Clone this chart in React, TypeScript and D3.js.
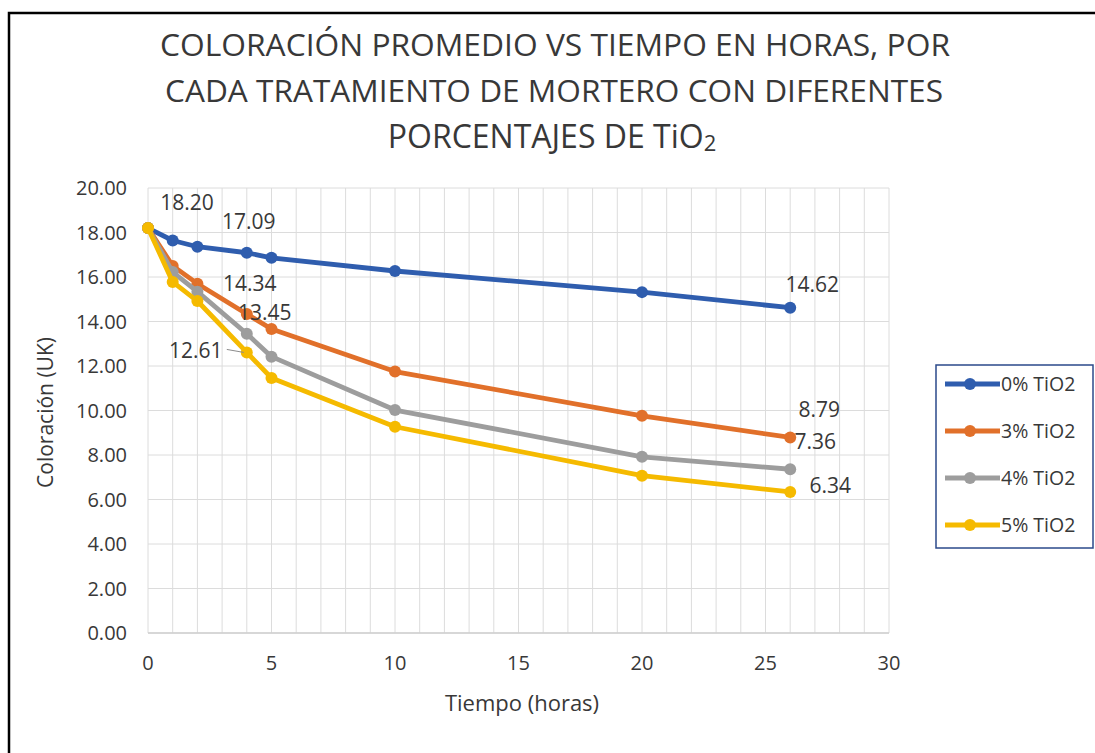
import React from "react";
import * as d3 from "d3";

const hours = [0, 1, 2, 4, 5, 10, 20, 26];
const seriesNames = ["0% TiO2", "3% TiO2", "4% TiO2", "5% TiO2"];
const tio0 = [18.2, 17.64, 17.36, 17.09, 16.86, 16.27, 15.32, 14.62];
const tio3 = [18.2, 16.5, 15.7, 14.34, 13.66, 11.75, 9.76, 8.79];
const tio4 = [18.2, 16.22, 15.34, 13.45, 12.42, 10.02, 7.92, 7.36];
const tio5 = [18.2, 15.78, 14.92, 12.61, 11.46, 9.27, 7.07, 6.34];
const seriesColors = ["#2F5DAE", "#E1702A", "#9D9D9D", "#F5BA00"];
const yTicks = [0, 2, 4, 6, 8, 10, 12, 14, 16, 18, 20];
const xTicks = [0, 5, 10, 15, 20, 25, 30];
const titleLines = [
  "COLORACIÓN PROMEDIO VS TIEMPO EN HORAS, POR",
  "CADA TRATAMIENTO DE MORTERO CON DIFERENTES",
];

// data labels: [series index, point index, dx, dy]
const labelSpecs: [number, number, number, number][] = [
  [0, 0, 39, -26],
  [0, 3, 2, -32],
  [0, 7, 22, -24],
  [1, 3, 3, -31],
  [1, 7, 29, -28],
  [2, 3, 18, -22],
  [2, 7, 25, -28],
  [3, 3, -51, -2],
  [3, 7, 40, -7],
];

const W = 1095;
const H = 753;
const FONT = "'Open Sans', 'Noto Sans', sans-serif";
const TXT = "#383838";

export default function App() {
  const data = [tio0, tio3, tio4, tio5];
  const x = d3.scaleLinear().domain([0, 30]).range([148, 889]);
  const y = d3.scaleLinear().domain([0, 20]).range([633, 188]);
  const line = d3
    .line<number>()
    .x((_, i) => x(hours[i]))
    .y((d) => y(d));
  const minorX = d3.range(0, 31, 1);

  return (
    <svg
      width={W}
      height={H}
      style={{ position: "absolute", left: 0, top: 0, background: "#fff" }}
      fontFamily={FONT}
    >
      <rect x={0} y={0} width={W} height={H} fill="#fff" />
      <path d={`M9,${H} V13 H${W}`} fill="none" stroke="#000" strokeWidth={2.5} />

      {/* title */}
      <g fill={TXT} fontSize={31} textAnchor="middle">
        <text x={555} y={56} textLength={790} lengthAdjust="spacingAndGlyphs">
          {titleLines[0]}
        </text>
        <text x={554} y={102} textLength={778} lengthAdjust="spacingAndGlyphs">
          {titleLines[1]}
        </text>
        <text x={552} y={148} fontSize={32}>
          PORCENTAJES DE TiO<tspan fontSize={22} dy={3}>2</tspan>
        </text>
      </g>

      {/* grid */}
      <g stroke="#dcdcdc" strokeWidth={1}>
        {minorX.map((v) => (
          <line key={"vx" + v} x1={x(v)} x2={x(v)} y1={y(20)} y2={y(0)} />
        ))}
        {yTicks.map((v) => (
          <line key={"hy" + v} x1={x(0)} x2={x(30)} y1={y(v)} y2={y(v)} />
        ))}
      </g>
      <line x1={x(0)} x2={x(30)} y1={y(0)} y2={y(0)} stroke="#cfcfcf" strokeWidth={1.5} />

      {/* y tick labels */}
      <g fill={TXT} fontSize={20} textAnchor="end">
        {yTicks.map((v) => (
          <text key={"yl" + v} x={127} y={y(v) + 7}>
            {d3.format(".2f")(v)}
          </text>
        ))}
      </g>
      {/* x tick labels */}
      <g fill={TXT} fontSize={20} textAnchor="middle">
        {xTicks.map((v) => (
          <text key={"xl" + v} x={x(v)} y={670}>
            {v}
          </text>
        ))}
      </g>

      {/* axis titles */}
      <text
        x={0}
        y={0}
        transform={`translate(53,${y(10) + 2}) rotate(-90)`}
        textAnchor="middle"
        fontSize={21}
        fill={TXT}
      >
        Coloración (UK)
      </text>
      <text x={522} y={711} textAnchor="middle" fontSize={22} fill={TXT}>
        Tiempo (horas)
      </text>

      {/* series */}
      {data.map((s, si) => (
        <g key={"s" + si}>
          <path
            d={line(s) || ""}
            fill="none"
            stroke={seriesColors[si]}
            strokeWidth={4.8}
            strokeLinejoin="round"
          />
          {s.map((v, i) => (
            <circle key={i} cx={x(hours[i])} cy={y(v)} r={6} fill={seriesColors[si]} />
          ))}
        </g>
      ))}

      {/* leader line for 12.61 */}
      <line
        x1={x(hours[3]) - 20}
        y1={y(tio5[3]) - 3}
        x2={x(hours[3]) - 3}
        y2={y(tio5[3])}
        stroke="#8c8c8c"
        strokeWidth={1}
      />

      {/* data labels */}
      <g fill={TXT} fontSize={21} textAnchor="middle">
        {labelSpecs.map(([si, pi, dx, dy], k) => (
          <text key={"dl" + k} x={x(hours[pi]) + dx} y={y(data[si][pi]) + dy + 8}>
            {d3.format(".2f")(data[si][pi])}
          </text>
        ))}
      </g>

      {/* legend */}
      <rect x={936} y={365} width={157} height={183} fill="#fff" stroke="#2B4A8B" strokeWidth={1.5} />
      {seriesNames.map((n, i) => {
        const ly = 384 + i * 47;
        return (
          <g key={"lg" + i}>
            <line x1={945} x2={1000} y1={ly} y2={ly} stroke={seriesColors[i]} strokeWidth={4.8} />
            <circle cx={970} cy={ly} r={6} fill={seriesColors[i]} />
            <text x={1001} y={ly + 7} fontSize={19.5} fill={TXT}>
              {n}
            </text>
          </g>
        );
      })}
    </svg>
  );
}
